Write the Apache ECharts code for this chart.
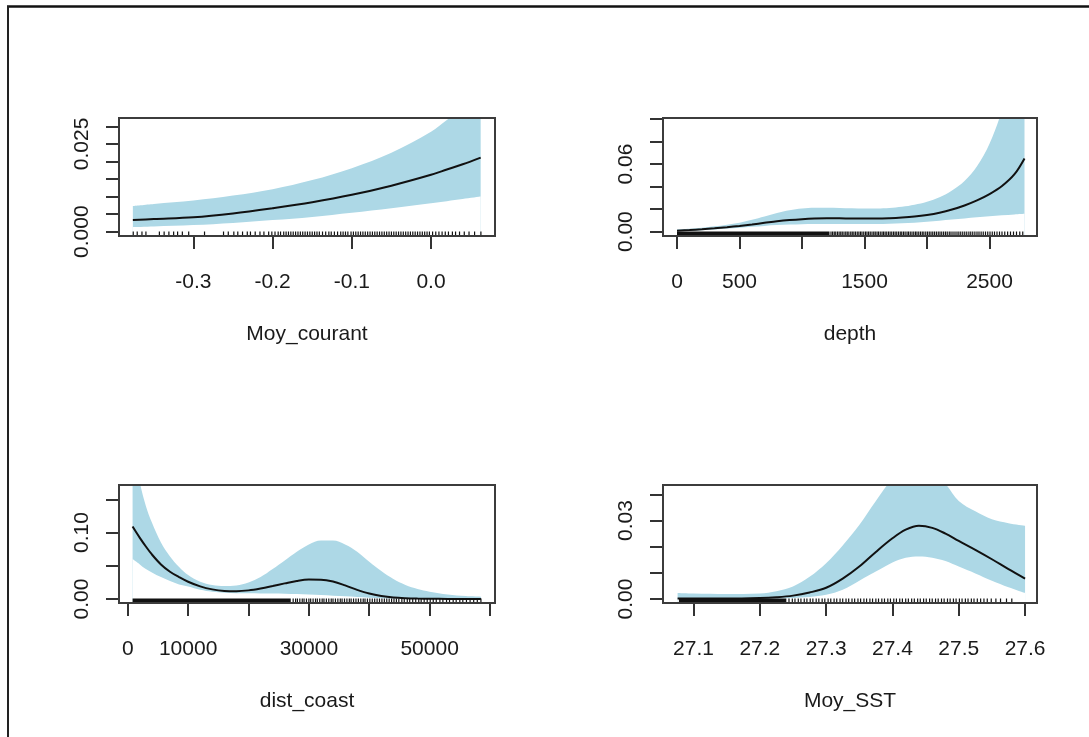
<!DOCTYPE html>
<html><head><meta charset="utf-8">
<script src="https://cdn.jsdelivr.net/npm/echarts@6/dist/echarts.min.js"></script>
<style>html,body{margin:0;padding:0;background:#fff}#c{width:1089px;height:737px}</style>
</head><body><div id="c"></div>
<script>
// ---------- Panel 1 : Moy_courant ----------
const p1X     = [-0.3765, -0.35, -0.3, -0.25, -0.2, -0.15, -0.1, -0.05, 0.0, 0.02, 0.04, 0.0627];
const p1Fit   = [0.0033, 0.0036, 0.0041, 0.0052, 0.0067, 0.0084, 0.0105, 0.0131, 0.0162, 0.0177, 0.0192, 0.0211];
const p1Upper = [0.0073, 0.0079, 0.0089, 0.0103, 0.0121, 0.0147, 0.0181, 0.0225, 0.0285, 0.0318, 0.0355, 0.0400];
const p1Lower = [0.0013, 0.0015, 0.0019, 0.0025, 0.0033, 0.0042, 0.0054, 0.0067, 0.0081, 0.0087, 0.0093, 0.0100];
const p1Rug   = [-0.376, -0.371, -0.365, -0.360, -0.343, -0.337, -0.331, -0.325, -0.320, -0.314, -0.306, -0.286,
  -0.262, -0.256, -0.249, -0.244, -0.238, -0.232, -0.228, -0.222, -0.216, -0.211, -0.205, -0.201, -0.197, -0.193,
  -0.190, -0.186, -0.183, -0.180, -0.177, -0.174, -0.171, -0.168, -0.165, -0.162, -0.159, -0.156, -0.153, -0.150,
  -0.147, -0.144, -0.141, -0.137, -0.133, -0.129, -0.126, -0.122, -0.118, -0.114, -0.111, -0.108, -0.105, -0.101,
  -0.098, -0.095, -0.092, -0.089, -0.086, -0.083, -0.080, -0.077, -0.074, -0.071, -0.068, -0.065, -0.062, -0.059,
  -0.056, -0.053, -0.050, -0.047, -0.044, -0.041, -0.038, -0.035, -0.032, -0.029, -0.026, -0.023, -0.020, -0.017,
  -0.014, -0.011, -0.008, -0.005, -0.002, 0.002, 0.006, 0.010, 0.014, 0.018, 0.022, 0.027, 0.031, 0.036, 0.042,
  0.048, 0.055, 0.063];
const p1RugRanges = [];
const p1XTicks  = [-0.3, -0.2, -0.1, 0.0];
const p1XLabels = [-0.3, -0.2, -0.1, 0.0];
const p1YTicks  = [0, 0.005, 0.01, 0.015, 0.02, 0.025, 0.03];
const p1YLabels = [0, 0.025];

// ---------- Panel 2 : depth ----------
const p2X     = [0, 100, 200, 300, 400, 500, 600, 700, 800, 900, 1000, 1100, 1200, 1300, 1400, 1500, 1600, 1700,
  1800, 1900, 2000, 2100, 2200, 2300, 2400, 2500, 2600, 2700, 2780];
const p2Fit   = [0.0009, 0.0014, 0.0021, 0.0030, 0.0040, 0.0051, 0.0064, 0.0078, 0.0092, 0.0103, 0.0111, 0.0116,
  0.0118, 0.0118, 0.0117, 0.0116, 0.0116, 0.0119, 0.0125, 0.0134, 0.0148, 0.0168, 0.0196, 0.0232, 0.0277, 0.0333,
  0.0405, 0.0510, 0.0650];
const p2Upper = [0.0020, 0.0026, 0.0035, 0.0047, 0.0062, 0.0080, 0.0105, 0.0135, 0.0165, 0.0190, 0.0205, 0.0212,
  0.0213, 0.0211, 0.0208, 0.0206, 0.0206, 0.0210, 0.0220, 0.0238, 0.0265, 0.0305, 0.0365, 0.0450, 0.0580, 0.0780,
  0.108, 0.150, 0.200];
const p2Lower = [0.0004, 0.0008, 0.0013, 0.0019, 0.0027, 0.0035, 0.0043, 0.0051, 0.0058, 0.0063, 0.0066, 0.0068,
  0.0068, 0.0068, 0.0068, 0.0068, 0.0069, 0.0071, 0.0075, 0.0080, 0.0088, 0.0097, 0.0107, 0.0117, 0.0127, 0.0137,
  0.0145, 0.0152, 0.0158];
const p2RugRanges = [[0, 1220]];
const p2Rug   = [1232, 1245, 1258, 1270, 1284, 1297, 1310, 1322, 1336, 1350, 1362, 1375, 1390, 1402, 1415, 1428, 1442,
  1455, 1468, 1480, 1494, 1508, 1520, 1533, 1546, 1560, 1574, 1586, 1600, 1612, 1626, 1640, 1652, 1665, 1678, 1692,
  1705, 1718, 1732, 1745, 1758, 1772, 1786, 1798, 1812, 1825, 1840, 1852, 1866, 1880, 1894, 1908, 1920, 1934, 1948,
  1962, 1975, 1990, 2004, 2018, 2032, 2046, 2060, 2075, 2090, 2104, 2118, 2133, 2148, 2162, 2178, 2192, 2208, 2224,
  2240, 2255, 2270, 2286, 2302, 2318, 2335, 2350, 2366, 2383, 2400, 2416, 2433, 2450, 2468, 2486, 2504, 2522, 2540,
  2560, 2580, 2600, 2622, 2645, 2668, 2692, 2716, 2742, 2766];
const p2XTicks  = [0, 500, 1000, 1500, 2000, 2500];
const p2XLabels = [0, 500, 1500, 2500];
const p2YTicks  = [0, 0.02, 0.04, 0.06, 0.08, 0.10];
const p2YLabels = [0, 0.06];

// ---------- Panel 3 : dist_coast ----------
const p3X     = [800, 2000, 3000, 4000, 5500, 7000, 8500, 10000, 12000, 14000, 16000, 18000, 20000, 22000, 24000,
  26000, 28000, 30000, 32000, 34000, 36000, 38000, 40000, 42000, 44000, 46000, 48000, 50000, 53000, 56000, 58500];
const p3Fit   = [0.109, 0.092, 0.079, 0.067, 0.052, 0.041, 0.033, 0.026, 0.019, 0.0145, 0.0122, 0.0118, 0.0130,
  0.0158, 0.0195, 0.0235, 0.0272, 0.0292, 0.0290, 0.0262, 0.0205, 0.0138, 0.0082, 0.0045, 0.0022, 0.0011, 0.0006,
  0.0004, 0.0002, 0.0001, 0.0001];
const p3Upper = [0.23, 0.175, 0.14, 0.115, 0.085, 0.064, 0.048, 0.036, 0.026, 0.021, 0.0195, 0.0205, 0.025, 0.033,
  0.045, 0.058, 0.071, 0.082, 0.088, 0.088, 0.082, 0.071, 0.056, 0.042, 0.030, 0.021, 0.015, 0.011, 0.0068, 0.0045,
  0.0035];
const p3Lower = [0.060, 0.052, 0.045, 0.040, 0.033, 0.027, 0.022, 0.019, 0.014, 0.011, 0.0095, 0.0088, 0.0085,
  0.0083, 0.0082, 0.0080, 0.0075, 0.0068, 0.0060, 0.0050, 0.0040, 0.0030, 0.0020, 0.0012, 0.0006, 0.0003, 0.0002,
  0.0001, 0.0001, 0.0001, 0.0001];
const p3RugRanges = [[800, 27000]];
const p3Rug   = [27400, 27800, 28100, 28500, 28900, 29200, 29600, 30000, 30300, 30700, 31100, 31400, 31800, 32200,
  32500, 32900, 33300, 33700, 34000, 34400, 34800, 35200, 35500, 35900, 36300, 36700, 37000, 37400, 37800, 38200,
  38600, 39000, 39300, 39700, 40100, 40500, 40900, 41300, 41700, 42100, 42500, 42900, 43300, 43700, 44100, 44500,
  44900, 45400, 45800, 46300, 46700, 47200, 47700, 48200, 48600, 49100, 49600, 50100, 50600, 51100, 51700, 52200,
  52800, 53300, 53900, 54400, 55000, 55500, 56100, 56700, 57300, 57900, 58500];
const p3XTicks  = [0, 10000, 20000, 30000, 40000, 50000, 60000];
const p3XLabels = [0, 10000, 30000, 50000];
const p3YTicks  = [0, 0.05, 0.10, 0.15];
const p3YLabels = [0, 0.10];

// ---------- Panel 4 : Moy_SST ----------
const p4X     = [27.076, 27.1, 27.15, 27.2, 27.225, 27.25, 27.275, 27.3, 27.325, 27.35, 27.375, 27.4, 27.42, 27.44,
  27.46, 27.48, 27.5, 27.525, 27.55, 27.575, 27.6];
const p4Fit   = [0.0002, 0.0002, 0.0002, 0.0004, 0.0007, 0.0013, 0.0025, 0.0043, 0.0078, 0.0124, 0.0180, 0.0232,
  0.0265, 0.0280, 0.0272, 0.0250, 0.0222, 0.0188, 0.0152, 0.0114, 0.0078];
const p4Upper = [0.0023, 0.0021, 0.0019, 0.0021, 0.0030, 0.0048, 0.0085, 0.0137, 0.0205, 0.0283, 0.0375, 0.0460,
  0.0505, 0.0515, 0.0490, 0.0440, 0.0375, 0.0335, 0.0305, 0.0290, 0.0280];
const p4Lower = [0, 0, 0, 0.0001, 0.0002, 0.0004, 0.0008, 0.0016, 0.0035, 0.0070, 0.0105, 0.0140, 0.0158, 0.0163,
  0.0158, 0.0145, 0.0124, 0.0098, 0.0070, 0.0045, 0.0023];
const p4RugRanges = [[27.078, 27.24]];
const p4Rug   = [27.244, 27.249, 27.253, 27.258, 27.262, 27.267, 27.271, 27.276, 27.280, 27.285, 27.289, 27.294,
  27.298, 27.303, 27.307, 27.312, 27.316, 27.321, 27.325, 27.330, 27.334, 27.339, 27.343, 27.348, 27.352, 27.357,
  27.361, 27.366, 27.370, 27.375, 27.379, 27.384, 27.388, 27.393, 27.397, 27.402, 27.406, 27.411, 27.415, 27.420,
  27.424, 27.429, 27.433, 27.438, 27.442, 27.447, 27.451, 27.456, 27.460, 27.465, 27.469, 27.474, 27.478, 27.483,
  27.487, 27.492, 27.496, 27.501, 27.505, 27.510, 27.514, 27.519, 27.523, 27.528, 27.533, 27.538, 27.543, 27.549,
  27.556, 27.563, 27.572, 27.580];
const p4XTicks  = [27.1, 27.2, 27.3, 27.4, 27.5, 27.6];
const p4XLabels = [27.1, 27.2, 27.3, 27.4, 27.5, 27.6];
const p4YTicks  = [0, 0.01, 0.02, 0.03, 0.04];
const p4YLabels = [0, 0.03];

const xTitles = ['Moy_courant', 'depth', 'dist_coast', 'Moy_SST'];

// ---------- build ----------
const FONT = 'Liberation Sans, Arial, sans-serif';
const TXT = '#1a1a1a';
const BAND = '#ADD8E6';
const panels = [
  {rect:{left:119, top:118, width:376, height:118}, xr:[-0.394, 0.0808], yr:[-0.00124, 0.0324],
   x:p1X, fit:p1Fit, up:p1Upper, lo:p1Lower, rug:p1Rug, rr:p1RugRanges,
   xt:p1XTicks, xl:p1XLabels, yt:p1YTicks, yl:p1YLabels, xf:v=>v.toFixed(1), yf:v=>v.toFixed(3)},
  {rect:{left:663, top:118, width:374, height:118}, xr:[-112, 2880], yr:[-0.00386, 0.1009],
   x:p2X, fit:p2Fit, up:p2Upper, lo:p2Lower, rug:p2Rug, rr:p2RugRanges,
   xt:p2XTicks, xl:p2XLabels, yt:p2YTicks, yl:p2YLabels, xf:v=>String(Math.round(v)), yf:v=>v.toFixed(2)},
  {rect:{left:119, top:485, width:376, height:118}, xr:[-1450, 60830], yr:[-0.006, 0.1715],
   x:p3X, fit:p3Fit, up:p3Upper, lo:p3Lower, rug:p3Rug, rr:p3RugRanges,
   xt:p3XTicks, xl:p3XLabels, yt:p3YTicks, yl:p3YLabels, xf:v=>String(Math.round(v)), yf:v=>v.toFixed(2)},
  {rect:{left:663, top:485, width:374, height:118}, xr:[27.054, 27.618], yr:[-0.00152, 0.04358],
   x:p4X, fit:p4Fit, up:p4Upper, lo:p4Lower, rug:p4Rug, rr:p4RugRanges,
   xt:p4XTicks, xl:p4XLabels, yt:p4YTicks, yl:p4YLabels, xf:v=>v.toFixed(1), yf:v=>v.toFixed(2)}
];

const grids = [], xAxes = [], yAxes = [], series = [];
panels.forEach((p, i) => {
  grids.push(Object.assign({show:true, borderColor:'#3c3c3c', borderWidth:2, backgroundColor:'rgba(0,0,0,0)', z:10}, p.rect));
  xAxes.push({gridIndex:i, type:'value', min:p.xr[0], max:p.xr[1], position:'bottom',
    axisLine:{show:false, onZero:false}, splitLine:{show:false},
    axisTick:{show:true, length:13, customValues:p.xt, lineStyle:{color:'#333', width:2}},
    axisLabel:{customValues:p.xl, margin:36, fontSize:21, color:TXT, fontFamily:FONT, formatter:p.xf},
    name:xTitles[i], nameLocation:'middle', nameGap:88,
    nameTextStyle:{fontSize:21, color:TXT, fontFamily:FONT}});
  yAxes.push({gridIndex:i, type:'value', min:p.yr[0], max:p.yr[1], position:'left',
    axisLine:{show:false, onZero:false}, splitLine:{show:false},
    axisTick:{show:true, length:13, customValues:p.yt, lineStyle:{color:'#333', width:2}},
    axisLabel:{customValues:p.yl, rotate:90, margin:26, fontSize:21, color:TXT, fontFamily:FONT, formatter:p.yf}});
  const up = p.x.map((x, k) => [x, p.up[k]]);
  const lo = p.x.map((x, k) => [x, p.lo[k]]);
  const fit = p.x.map((x, k) => [x, p.fit[k]]);
  // confidence band: upper filled in light blue, below lower cleared to white
  series.push({type:'line', xAxisIndex:i, yAxisIndex:i, data:up, symbol:'none', smooth:0.35,
    lineStyle:{width:0, opacity:0}, areaStyle:{color:BAND, opacity:1, origin:'start'}, silent:true, clip:true, z:1});
  series.push({type:'line', xAxisIndex:i, yAxisIndex:i, data:lo, symbol:'none', smooth:0.35,
    lineStyle:{width:0, opacity:0}, areaStyle:{color:'#ffffff', opacity:1, origin:'start'}, silent:true, clip:true, z:2});
  series.push({type:'line', xAxisIndex:i, yAxisIndex:i, data:fit, symbol:'none', smooth:0.35,
    lineStyle:{width:2, color:'#111'}, silent:true, clip:true, z:3});
  series.push({type:'custom', xAxisIndex:i, yAxisIndex:i, data:p.rug.map(v => [v, 0]), silent:true, z:4,
    renderItem:(params, api) => {
      const cs = params.coordSys;
      const x = api.coord([api.value(0), 0])[0];
      const yb = cs.y + cs.height;
      return {type:'line', shape:{x1:x, y1:yb, x2:x, y2:yb - 4.5}, style:{stroke:'#111', lineWidth:1.2}};
    }});
  if (p.rr.length) {
    series.push({type:'custom', xAxisIndex:i, yAxisIndex:i, data:p.rr.map(r => [r[0], r[1]]),
      encode:{x:[0, 1]}, silent:true, z:4,
      renderItem:(params, api) => {
        const cs = params.coordSys;
        const x1 = api.coord([api.value(0), 0])[0];
        const x2 = api.coord([api.value(1), 0])[0];
        const yb = cs.y + cs.height;
        return {type:'rect', shape:{x:x1, y:yb - 4.5, width:x2 - x1, height:4.5}, style:{fill:'#111'}};
      }});
  }
});

const chart = echarts.init(document.getElementById('c'), null, {renderer:'canvas'});
chart.setOption({
  backgroundColor:'#fff',
  animation:false,
  grid:grids, xAxis:xAxes, yAxis:yAxes, series:series,
  graphic:[
    {type:'line', shape:{x1:7, y1:6.5, x2:1089, y2:6.5}, style:{stroke:'#111', lineWidth:2.5}, z:100},
    {type:'line', shape:{x1:8, y1:6, x2:8, y2:737}, style:{stroke:'#222', lineWidth:2}, z:100}
  ]
});
</script>
</body></html>
